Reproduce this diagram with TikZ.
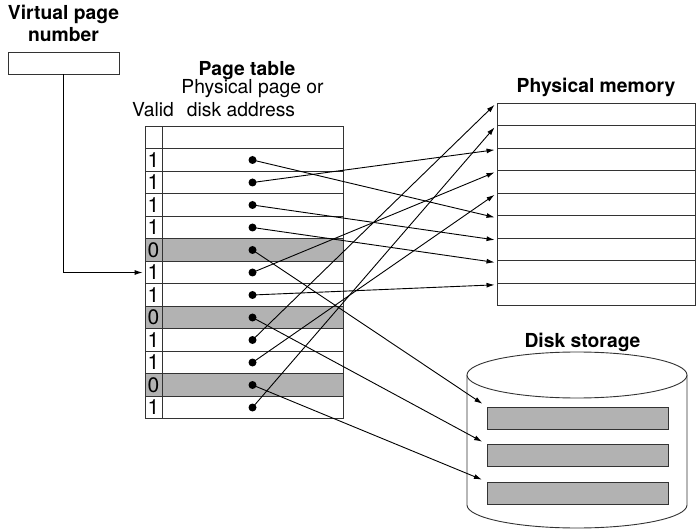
\documentclass[tikz,border=0pt]{standalone}
\usepackage{fontspec}
\setmainfont{TeX Gyre Heros}
\usepackage{tikz}
\usetikzlibrary{arrows.meta,positioning,calc}

\tikzset{
    heading/.style={font=\fontsize{19.3}{22.4}\selectfont\bfseries, inner sep=0pt, align=center},
    txt/.style={font=\fontsize{19.3}{22.4}\selectfont, inner sep=0pt},
    cell/.style={draw=black!80, line width=0.9pt, inner sep=0pt, minimum height=22.5pt, font=\fontsize{21}{22.5}\selectfont},
    valid/.style={cell, minimum width=17pt},
    addr/.style={cell, minimum width=181pt},
    row1/.style={fill=white},
    row0/.style={fill=black!30},
    platter/.style={draw=black!80, line width=0.9pt, fill=black!30, minimum width=181pt, minimum height=22pt, inner sep=0pt},
    dot/.style={circle, fill=black, inner sep=0pt, minimum size=8pt},
    ptr/.style={-{Latex[length=8pt,width=5pt]}, line width=0.9pt}
}

\begin{document}
\begin{tikzpicture}[x=1pt, y=-1pt]
    \useasboundingbox (0,0) rectangle (696,529);

    % virtual page number
    \node [heading, anchor=base] (vpntitle) at (63.5,41.7) {Virtual page\\number};
    \node [cell, minimum width=111pt, minimum height=22pt] (vpn) at (63.5,63) {};

    % page table
    \node [heading, anchor=base] (pttitle) at (247,76) {Page table};
    \node [txt, anchor=base] (ptsub) at (252.5,94) {Physical page or};
    \node [txt, anchor=base west] (validlbl) at (132,117) {Valid};
    \node [txt, anchor=base] (addrlbl) at (241,117) {disk address};

    \node [valid] (vh) at (153.5,137.5) {};
    \node [addr] (ah) at (252.5,137.5) {};
    \foreach \v [count=\i] in {1,1,1,1,0,1,1,0,1,1,0,1} {
        \node [valid, row\v] (v\i) at (153.5,137.5+22.5*\i) {\v};
        \node [addr, row\v] (a\i) at (252.5,137.5+22.5*\i) {};
        \node [dot] (d\i) at (a\i.center) {};
    }

    % physical memory
    \node [heading, anchor=base] (pmtitle) at (596,93) {Physical memory};
    \foreach \k in {1,...,9}
        \node [cell, minimum width=198pt] (f\k) at (596,92.05+22.5*\k) {};

    % disk storage
    \node [heading, anchor=base] (dktitle) at (582.5,347) {Disk storage};
    \draw [draw=black!80, line width=0.9pt, fill=white] (467,375) -- (467,505) arc (180:0:110 and 23) -- (687,375);
    \draw [draw=black!80, line width=0.9pt, fill=white] (577,375) ellipse [x radius=110, y radius=23];
    \foreach \k/\y in {1/418,2/455.5,3/493}
        \node [platter] (p\k) at (577.5,\y) {};

    % pointers
    \draw [ptr] (vpn.south) |- ([xshift=-2pt]v6.west);
    \foreach \r/\k in {1/6,2/3,3/7,4/8,6/4,7/9,9/1,10/5,12/2}
        \draw [ptr] (d\r.center) -- ([shift={(-2pt,-2pt)}]f\k.north west);
    \foreach \r/\k in {5/1,8/2,11/3}
        \draw [ptr, shorten >=5pt] (d\r.center) -- (p\k.north west);
\end{tikzpicture}
\end{document}
